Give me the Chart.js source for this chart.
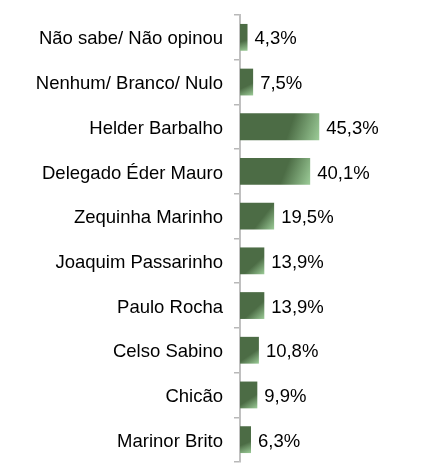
<!DOCTYPE html>
<html>
<head>
<meta charset="utf-8">
<script src="https://cdn.jsdelivr.net/npm/chart.js@4"></script>
<style>
  html, body { margin: 0; padding: 0; background: #ffffff; }
  #wrap { width: 426px; height: 467px; position: relative; }
</style>
</head>
<body>
<div id="wrap"><canvas id="c"></canvas></div>
<script>
const categories = [
  "Não sabe/ Não opinou",
  "Nenhum/ Branco/ Nulo",
  "Helder Barbalho",
  "Delegado Éder Mauro",
  "Zequinha Marinho",
  "Joaquim Passarinho",
  "Paulo Rocha",
  "Celso Sabino",
  "Chicão",
  "Marinor Brito"
];
const values = [4.3, 7.5, 45.3, 40.1, 19.5, 13.9, 13.9, 10.8, 9.9, 6.3];
const valueLabels = ["4,3%", "7,5%", "45,3%", "40,1%", "19,5%", "13,9%", "13,9%", "10,8%", "9,9%", "6,3%"];

const DARK = "#4c6c45";
const LIGHT = "#9ccc98";
const FONT = "'Liberation Sans', Arial, sans-serif";

function barFill(ctx) {
  const chart = ctx.chart;
  if (!chart.chartArea || ctx.type !== "data") return DARK;
  const xs = chart.scales.x, ys = chart.scales.y;
  const x0 = xs.getPixelForValue(0);
  const x1 = xs.getPixelForValue(ctx.raw);
  const yc = ys.getPixelForValue(ctx.dataIndex);
  const h = ys.height / categories.length * 0.6;
  const g = chart.ctx.createLinearGradient(x0, yc - h / 2, x1, yc + h / 2);
  g.addColorStop(0, DARK);
  g.addColorStop(0.62, DARK);
  g.addColorStop(1, LIGHT);
  return g;
}

const valueLabelPlugin = {
  id: "valueLabels",
  afterDatasetsDraw(chart) {
    const c = chart.ctx;
    const meta = chart.getDatasetMeta(0);
    c.save();
    c.font = "18.5px " + FONT;
    c.fillStyle = "#000000";
    c.textAlign = "left";
    c.textBaseline = "middle";
    meta.data.forEach((bar, i) => {
      c.fillText(valueLabels[i], bar.x + 7, bar.y + 2);
    });
    c.restore();
  }
};

new Chart(document.getElementById("c"), {
  type: "bar",
  data: {
    labels: categories,
    datasets: [{
      data: values,
      backgroundColor: barFill,
      borderWidth: 0,
      barPercentage: 0.6,
      categoryPercentage: 1.0
    }]
  },
  options: {
    indexAxis: "y",
    responsive: true,
    maintainAspectRatio: false,
    animation: false,
    layout: { padding: { top: 15, bottom: 5, left: 0, right: 11 } },
    plugins: {
      legend: { display: false },
      tooltip: { enabled: false }
    },
    scales: {
      x: {
        display: false,
        min: 0,
        max: 100
      },
      y: {
        afterFit(scale) {
          scale.width = 240;
          scale.paddingTop = 0;
          scale.paddingBottom = 0;
        },
        grid: {
          display: true,
          drawOnChartArea: false,
          drawTicks: true,
          tickLength: 6,
          offset: true,
          color: "#b8b8b8",
          lineWidth: 1.5
        },
        border: { display: true, color: "#c0c0c0", width: 2 },
        ticks: {
          padding: 11,
          labelOffset: 2,
          color: "#000000",
          font: { family: FONT, size: 18.5 }
        }
      }
    }
  },
  plugins: [valueLabelPlugin]
});
</script>
</body>
</html>
